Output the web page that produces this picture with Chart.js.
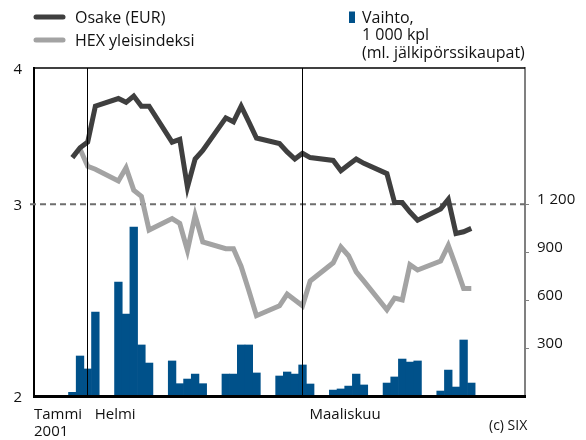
<!DOCTYPE html>
<html>
<head>
<meta charset="utf-8">
<script src="https://cdn.jsdelivr.net/npm/chart.js@4.4.1/dist/chart.umd.min.js"></script>
<style>
  html, body { margin: 0; padding: 0; background: #fff; }
  #wrap { position: relative; width: 586px; height: 440px; }
</style>
</head>
<body>
<div id="wrap"><canvas id="chart" width="586" height="440"></canvas></div>
<script>
// trading days, Jan 30 - Mar 23 2001
var tradeDays = [
  "2001-01-30","2001-01-31","2001-02-01","2001-02-02",
  "2001-02-05","2001-02-06","2001-02-07","2001-02-08","2001-02-09",
  "2001-02-12","2001-02-13","2001-02-14","2001-02-15","2001-02-16",
  "2001-02-19","2001-02-20","2001-02-21","2001-02-22","2001-02-23",
  "2001-02-26","2001-02-27","2001-02-28","2001-03-01","2001-03-02",
  "2001-03-05","2001-03-06","2001-03-07","2001-03-08","2001-03-09",
  "2001-03-12","2001-03-13","2001-03-14","2001-03-15","2001-03-16",
  "2001-03-19","2001-03-20","2001-03-21","2001-03-22","2001-03-23"
];
var osake = [
  3.31, 3.38, 3.42, 3.69,
  3.75, 3.72, 3.77, 3.69, 3.69,
  3.42, 3.44, 3.11, 3.30, 3.36,
  3.60, 3.57, 3.69, 3.57, 3.45,
  3.41, 3.35, 3.30, 3.34, 3.31,
  3.29, 3.22, 3.26, 3.30, 3.27,
  3.20, 3.01, 3.01, 2.95, 2.90,
  2.97, 3.03, 2.82, 2.83, 2.85
];
var hexIndex = [
  null, 3.37, 3.25, 3.23,
  3.15, 3.24, 3.09, 3.05, 2.84,
  2.91, 2.88, 2.72, 2.93, 2.77,
  2.73, 2.73, 2.63, 2.50, 2.37,
  2.42, 2.48, 2.45, 2.42, 2.55,
  2.65, 2.74, 2.69, 2.60, 2.55,
  2.40, 2.46, 2.45, 2.64, 2.61,
  2.66, 2.75, 2.63, 2.51, 2.51
];
var vaihto = [
  23, 250, 169, 525,
  712, 512, 1056, 319, 206,
  219, 77, 106, 137, 77,
  137, 137, 319, 319, 144,
  125, 150, 137, 194, 75,
  37, 44, 62, 137, 69,
  81, 119, 231, 212, 219,
  31, 162, 56, 350, 81
];

var leftTicks = [2, 3, 4];
var rightTicks = [300, 600, 900, 1200];
var rightTickLabels = ["300", "600", "900", "1 200"];
var refLevel = 3;
var axisRange = ["2001-01-25", "2001-03-30"];
var monthStarts = ["2001-01-01", "2001-02-01", "2001-03-01"];
var monthLabels = [["Tammi", "2001"], ["Helmi"], ["Maaliskuu"]];
var volumeLegend = ["Vaihto,", "1 000 kpl", "(ml. jälkipörssikaupat)"];

var FONT = '"Open Sans", "DejaVu Sans", sans-serif';
var DARK = "#3f3f3f", GREY = "#a3a3a3", BLUE = "#00518a";

function dayNum(s){
  var p = s.split("-");
  return (Date.UTC(+p[0], +p[1] - 1, +p[2]) - Date.UTC(+p[0], 0, 1)) / 864e5 + 1;
}
function points(values){
  return tradeDays.map(function (d, i) { return { x: dayNum(d), y: values[i] }; });
}

var frame = {
  id: "frame",
  beforeDatasetsDraw: function(chart){
    var ctx = chart.ctx, a = chart.chartArea;
    var y = chart.scales.y.getPixelForValue(refLevel);
    ctx.save();
    ctx.strokeStyle = "#6e6e6e";
    ctx.lineWidth = 2;
    ctx.setLineDash([6, 4]);
    ctx.beginPath();
    ctx.moveTo(a.left - 4, y);
    ctx.lineTo(a.right, y);
    ctx.stroke();
    ctx.restore();
  },
  afterDraw: function(chart){
    var ctx = chart.ctx, a = chart.chartArea, xs = chart.scales.x;
    ctx.save();

    // top edge of the frame
    ctx.strokeStyle = "#000";
    ctx.lineWidth = 1.5;
    ctx.beginPath();
    ctx.moveTo(a.left - 1, a.top);
    ctx.lineTo(a.right, a.top);
    ctx.stroke();

    // legend
    var ds = chart.data.datasets;
    ctx.lineCap = "round";
    ctx.lineWidth = 5;
    [[ds[0], 17, 22.5], [ds[1], 40, 45.5]].forEach(function (row) {
      ctx.strokeStyle = row[0].borderColor;
      ctx.beginPath();
      ctx.moveTo(36, row[1]);
      ctx.lineTo(63, row[1]);
      ctx.stroke();
      ctx.fillStyle = "#111";
      ctx.font = "16px " + FONT;
      ctx.textAlign = "left";
      ctx.textBaseline = "alphabetic";
      ctx.fillText(row[0].label, 75, row[2]);
    });
    ctx.fillStyle = ds[2].backgroundColor;
    ctx.fillRect(349, 11.5, 6, 11.5);
    ctx.fillStyle = "#111";
    volumeLegend.forEach(function (line, j) {
      ctx.fillText(line, 362, 22.5 + j * 17.5);
    });

    // month labels
    ctx.font = "15px " + FONT;
    monthStarts.forEach(function (d, i) {
      var px = Math.max(xs.getPixelForValue(dayNum(d)) + 7, a.left);
      monthLabels[i].forEach(function (line, j) {
        ctx.fillText(line, px, a.bottom + 23 + j * 17);
      });
    });

    ctx.font = "14px " + FONT;
    ctx.fillText("(c) SIX", 489, 430);
    ctx.restore();
  }
};

new Chart(document.getElementById("chart"), {
  type: "line",
  data: {
    datasets: [
      {
        type: "line",
        label: "Osake (EUR)",
        data: points(osake),
        yAxisID: "y",
        borderColor: DARK,
        borderWidth: 5,
        pointRadius: 0,
        tension: 0,
        order: 1
      },
      {
        type: "line",
        label: "HEX yleisindeksi",
        data: points(hexIndex),
        yAxisID: "y",
        borderColor: GREY,
        borderWidth: 5,
        pointRadius: 0,
        tension: 0,
        order: 2
      },
      {
        type: "bar",
        label: "Vaihto",
        data: points(vaihto),
        yAxisID: "y1",
        backgroundColor: BLUE,
        borderWidth: 0,
        barPercentage: 1,
        categoryPercentage: 1,
        order: 3
      }
    ]
  },
  options: {
    responsive: false,
    animation: false,
    devicePixelRatio: 1,
    layout: { padding: { top: 68, left: 0, right: 0, bottom: 0 } },
    plugins: { legend: { display: false }, tooltip: { enabled: false } },
    scales: {
      x: {
        type: "linear",
        min: dayNum(axisRange[0]),
        max: dayNum(axisRange[1]),
        offset: false,
        afterBuildTicks: function(s){
          s.ticks = monthStarts.slice(1).map(function (d) { return { value: dayNum(d) }; });
        },
        afterFit: function(s){ s.height = 44; },
        grid: { color: "#000", lineWidth: 1, drawTicks: false, offset: false, z: 1 },
        border: { color: "#000", width: 3, z: 1 },
        ticks: { display: false }
      },
      y: {
        type: "logarithmic",
        position: "left",
        min: 2,
        max: 4,
        afterBuildTicks: function(s){
          s.ticks = leftTicks.map(function (v) { return { value: v }; });
        },
        afterFit: function(s){ s.width = 34; },
        grid: { display: false, drawTicks: false },
        border: { display: true, color: "#000", width: 2 },
        ticks: {
          padding: 12,
          labelOffset: 2,
          color: "#111",
          font: { family: FONT, size: 15 },
          callback: function(v){ return String(v); }
        }
      },
      y1: {
        type: "linear",
        position: "right",
        min: 0,
        max: 2050,
        afterBuildTicks: function(s){
          s.ticks = rightTicks.map(function (v) { return { value: v }; });
        },
        afterFit: function(s){ s.width = 61; },
        grid: { drawOnChartArea: false, color: "#808080", tickLength: 4, lineWidth: 1 },
        border: { color: "#808080", width: 2 },
        ticks: {
          padding: 8,
          labelOffset: -4,
          color: "#111",
          font: { family: FONT, size: 15 },
          callback: function(v){ return rightTickLabels[rightTicks.indexOf(v)]; }
        }
      }
    }
  },
  plugins: [frame]
});
</script>
</body>
</html>
